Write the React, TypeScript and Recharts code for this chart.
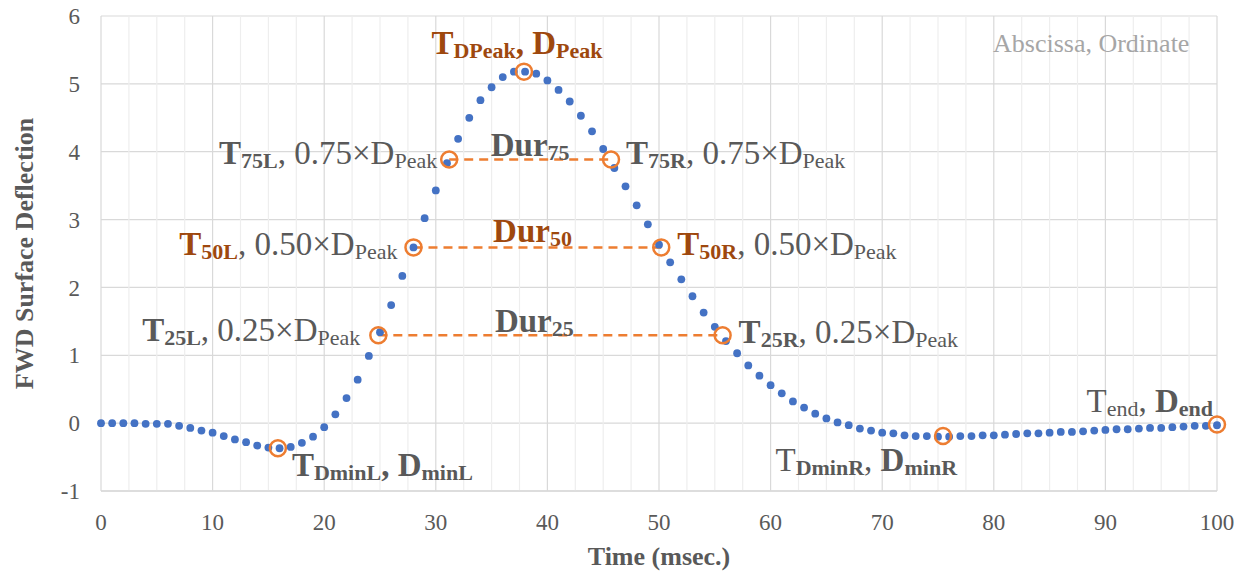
import React from "react";
import {
  CartesianGrid,
  Label,
  ReferenceLine,
  Scatter,
  ScatterChart,
  XAxis,
  YAxis
} from "recharts";

// FWD time history, one reading per msec
const timeMs = [
  0, 1, 2, 3, 4, 5, 6, 7, 8, 9, 10, 11, 12, 13, 14, 15, 16, 17, 18, 19, 20,
  21, 22, 23, 24, 25, 26, 27, 28, 29, 30, 31, 32, 33, 34, 35, 36, 37, 38, 39, 40,
  41, 42, 43, 44, 45, 46, 47, 48, 49, 50, 51, 52, 53, 54, 55, 56, 57, 58, 59, 60,
  61, 62, 63, 64, 65, 66, 67, 68, 69, 70, 71, 72, 73, 74, 75, 76, 77, 78, 79, 80,
  81, 82, 83, 84, 85, 86, 87, 88, 89, 90, 91, 92, 93, 94, 95, 96, 97, 98, 99, 100
];
const deflection = [
  0, 0, 0, 0, -0.01, -0.01, -0.01, -0.04, -0.07, -0.11, -0.14,
  -0.19, -0.24, -0.28, -0.33, -0.36, -0.37, -0.35, -0.29, -0.2, -0.06,
  0.13, 0.37, 0.64, 0.99, 1.34, 1.74, 2.17, 2.59, 3.02, 3.43,
  3.83, 4.19, 4.5, 4.76, 4.95, 5.1, 5.18, 5.18, 5.15, 5.05,
  4.91, 4.74, 4.53, 4.3, 4.04, 3.76, 3.49, 3.21, 2.93, 2.63,
  2.37, 2.12, 1.87, 1.63, 1.42, 1.21, 1.03, 0.85, 0.7, 0.56,
  0.44, 0.32, 0.23, 0.14, 0.07, 0.01, -0.03, -0.08, -0.11, -0.14,
  -0.15, -0.18, -0.19, -0.19, -0.2, -0.2, -0.19, -0.19, -0.18, -0.18,
  -0.17, -0.16, -0.15, -0.15, -0.14, -0.13, -0.13, -0.12, -0.11, -0.1,
  -0.09, -0.09, -0.08, -0.07, -0.07, -0.06, -0.05, -0.04, -0.04, -0.03
];

// characteristic points (abscissa, ordinate)
const markerIds = ["peak", "75L", "75R", "50L", "50R", "25L", "25R", "minL", "minR", "end"];
const markerTime = [37.9, 31.2, 45.7, 28.0, 50.2, 24.85, 55.7, 15.85, 75.45, 100];
const markerDefl = [5.18, 3.885, 3.885, 2.59, 2.59, 1.295, 1.295, -0.37, -0.19, -0.02];

// durations at 75 / 50 / 25 % of peak
const durIds = ["75", "50", "25"];
const durLeft = [31.2, 28.0, 24.85];
const durRight = [45.7, 50.2, 55.7];
const durDefl = [3.885, 2.59, 1.295];

const xTicks = [0, 10, 20, 30, 40, 50, 60, 70, 80, 90, 100];
const xMinorTicks = [
  2.5, 5, 7.5, 12.5, 15, 17.5, 22.5, 25, 27.5, 32.5, 35, 37.5, 42.5, 45, 47.5,
  52.5, 55, 57.5, 62.5, 65, 67.5, 72.5, 75, 77.5, 82.5, 85, 87.5, 92.5, 95, 97.5
];
const yTicks = [-1, 0, 1, 2, 3, 4, 5, 6];

const SERIF = '"Liberation Serif", "Times New Roman", serif';
const GRAY = "#595959";
const BROWN = "#9E480E";
const ORANGE = "#ED7D31";
const BLUE = "#4472C4";
const MAIN = 33;
const SUB = 22;

type Part = { t: string; b?: boolean; s?: boolean; o?: boolean };

const markerText: Record<string, Part[]> = {
  peak: [
    { t: "T", b: true, o: true }, { t: "DPeak", b: true, s: true, o: true },
    { t: ", D", b: true, o: true }, { t: "Peak", b: true, s: true, o: true }
  ],
  "75L": [{ t: "T", b: true }, { t: "75L", b: true, s: true }, { t: ", 0.75×D" }, { t: "Peak", s: true }],
  "75R": [{ t: "T", b: true }, { t: "75R", b: true, s: true }, { t: ", 0.75×D" }, { t: "Peak", s: true }],
  "50L": [{ t: "T", b: true, o: true }, { t: "50L", b: true, s: true, o: true }, { t: ", 0.50×D" }, { t: "Peak", s: true }],
  "50R": [{ t: "T", b: true, o: true }, { t: "50R", b: true, s: true, o: true }, { t: ", 0.50×D" }, { t: "Peak", s: true }],
  "25L": [{ t: "T", b: true }, { t: "25L", b: true, s: true }, { t: ", 0.25×D" }, { t: "Peak", s: true }],
  "25R": [{ t: "T", b: true }, { t: "25R", b: true, s: true }, { t: ", 0.25×D" }, { t: "Peak", s: true }],
  minL: [{ t: "T", b: true }, { t: "DminL", b: true, s: true }, { t: ", D", b: true }, { t: "minL", b: true, s: true }],
  minR: [{ t: "T" }, { t: "DminR", b: true, s: true }, { t: ", " }, { t: "D", b: true }, { t: "minR", b: true, s: true }],
  end: [{ t: "T" }, { t: "end", s: true }, { t: ", " }, { t: "D", b: true }, { t: "end", b: true, s: true }]
};

const markerLayout: Record<string, { dx: number; dy: number; anchor: "start" | "middle" | "end" }> = {
  peak: { dx: -7, dy: -18, anchor: "middle" },
  "75L": { dx: -12, dy: 4, anchor: "end" },
  "75R": { dx: 15, dy: 4, anchor: "start" },
  "50L": { dx: -16, dy: 8, anchor: "end" },
  "50R": { dx: 16, dy: 8, anchor: "start" },
  "25L": { dx: -18, dy: 6, anchor: "end" },
  "25R": { dx: 16, dy: 8, anchor: "start" },
  minL: { dx: 14, dy: 28, anchor: "start" },
  minR: { dx: 14, dy: 35, anchor: "end" },
  end: { dx: -4, dy: -13, anchor: "end" }
};

const durText: Record<string, Part[]> = {
  "75": [{ t: "Dur", b: true }, { t: "75", b: true, s: true }],
  "50": [{ t: "Dur", b: true, o: true }, { t: "50", b: true, s: true, o: true }],
  "25": [{ t: "Dur", b: true }, { t: "25", b: true, s: true }]
};
const durLayout: Record<string, { dx: number; dy: number }> = {
  "75": { dx: 81, dy: -4 },
  "50": { dx: 119, dy: -5 },
  "25": { dx: 156, dy: -3 }
};

function RichText({ x, y, anchor, parts }: { x: number; y: number; anchor: string; parts: Part[] }) {
  let shift = 0;
  return (
    <text x={x} y={y} textAnchor={anchor} fontFamily={SERIF} fontSize={MAIN}>
      {parts.map((p, i) => {
        const target = p.s ? 4 : 0;
        const dy = target - shift;
        shift = target;
        return (
          <tspan
            key={i}
            dy={dy}
            fontSize={p.s ? SUB : MAIN}
            fontWeight={p.b ? 700 : 400}
            fill={p.o ? BROWN : GRAY}
          >
            {p.t}
          </tspan>
        );
      })}
    </text>
  );
}

const points = timeMs.map((t, i) => ({ t, d: deflection[i] }));
const markers = markerIds.map((id, i) => ({ t: markerTime[i], d: markerDefl[i], id }));
const durAnchors = durIds.map((id, i) => ({ t: durLeft[i], d: durDefl[i], id }));

const Dot = (props: any) => <circle cx={props.cx} cy={props.cy} r={3.9} fill={BLUE} />;

const Marker = (props: any) => {
  const { cx, cy, payload } = props;
  const lay = markerLayout[payload.id];
  return (
    <g>
      <circle cx={cx} cy={cy} r={8} fill="none" stroke={ORANGE} strokeWidth={2.5} />
      <RichText x={cx + lay.dx} y={cy + lay.dy} anchor={lay.anchor} parts={markerText[payload.id]} />
    </g>
  );
};

const DurLabel = (props: any) => {
  const { cx, cy, payload } = props;
  const lay = durLayout[payload.id];
  return <RichText x={cx + lay.dx} y={cy + lay.dy} anchor="middle" parts={durText[payload.id]} />;
};

export default function App() {
  return (
    <div style={{ position: "relative", width: 1247, height: 575, background: "#fff" }}>
      <style>{"body{margin:0}"}</style>
      <ScatterChart width={1247} height={575} margin={{ top: 16, right: 30, bottom: 0, left: 0 }}>
        <CartesianGrid stroke="#D9D9D9" strokeWidth={1.2} />
        {xMinorTicks.map((v) => (
          <ReferenceLine key={v} x={v} stroke="#EEEEEE" strokeWidth={1.2} />
        ))}
        <XAxis
          type="number"
          dataKey="t"
          domain={[0, 100]}
          ticks={xTicks}
          axisLine={{ stroke: "#D9D9D9", strokeWidth: 1.5 }}
          tickLine={false}
          tickSize={0}
          tickMargin={23}
          height={84}
          tick={{ fill: GRAY, fontSize: 23, fontFamily: SERIF }}
        >
          <Label
            content={(p: any) => (
              <text
                x={p.viewBox.x + p.viewBox.width / 2}
                y={565}
                textAnchor="middle"
                fontFamily={SERIF}
                fontSize={26}
                fontWeight={700}
                fill={GRAY}
              >
                Time (msec.)
              </text>
            )}
          />
        </XAxis>
        <YAxis
          type="number"
          dataKey="d"
          domain={[-1, 6]}
          ticks={yTicks}
          axisLine={false}
          tickLine={false}
          tickSize={0}
          tickMargin={21}
          width={101}
          tick={{ fill: GRAY, fontSize: 23, fontFamily: SERIF }}
        >
          <Label
            content={(p: any) => {
              const cy = p.viewBox.y + p.viewBox.height / 2;
              return (
                <text
                  x={33}
                  y={cy}
                  transform={`rotate(-90, 33, ${cy})`}
                  textAnchor="middle"
                  fontFamily={SERIF}
                  fontSize={26}
                  fontWeight={700}
                  fill={GRAY}
                >
                  FWD Surface Deflection
                </text>
              );
            }}
          />
        </YAxis>
        {durIds.map((id, i) => (
          <ReferenceLine
            key={id}
            segment={[
              { x: durLeft[i], y: durDefl[i] },
              { x: durRight[i], y: durDefl[i] }
            ]}
            stroke={ORANGE}
            strokeWidth={2.5}
            strokeDasharray="9 6"
          />
        ))}
        <Scatter data={points} shape={Dot} isAnimationActive={false} />
        <Scatter data={durAnchors} shape={DurLabel} isAnimationActive={false} />
        <Scatter data={markers} shape={Marker} isAnimationActive={false} />
      </ScatterChart>
      <div
        style={{
          position: "absolute",
          left: 993,
          top: 31,
          fontFamily: SERIF,
          fontSize: 26,
          lineHeight: 1,
          color: "#A6A6A6",
          whiteSpace: "nowrap"
        }}
      >
        Abscissa, Ordinate
      </div>
    </div>
  );
}
